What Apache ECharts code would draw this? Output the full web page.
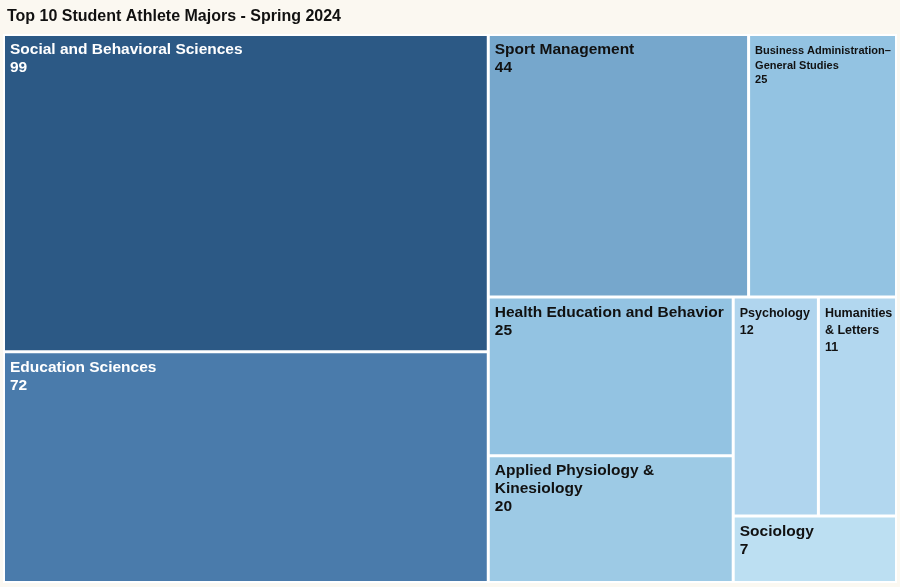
<!DOCTYPE html>
<html><head><meta charset="utf-8">
<script src="https://cdn.jsdelivr.net/npm/echarts@6/dist/echarts.min.js"></script>
<style>html,body{margin:0;padding:0;background:#fbf8f1;}#c{width:900px;height:587px;}</style>
</head><body><div id="c"></div>
<script>
const majors = ['Social and Behavioral Sciences','Education Sciences','Sport Management','Health Education and Behavior','Business Administration\u2013\nGeneral Studies','Applied Physiology &\nKinesiology','Psychology','Humanities\n& Letters','Sociology'];
const counts = [99,72,44,25,25,20,12,11,7];

const colorStops = [[7,[188,223,242]],[12,[176,213,238]],[20,[157,202,229]],[25,[147,195,226]],[44,[118,167,204]],[72,[74,123,171]],[99,[44,89,133]]];
function colorFor(v){
  for(let i=0;i<colorStops.length-1;i++){
    const a=colorStops[i],b=colorStops[i+1];
    if(v<=b[0]){const t=(v-a[0])/(b[0]-a[0]);const c=a[1].map((x,k)=>Math.round(x+(b[1][k]-x)*t));return 'rgb('+c.join(',')+')';}
  }
  return 'rgb('+colorStops[colorStops.length-1][1].join(',')+')';
}
const small = {'Business Administration\u2013\nGeneral Studies':[11,14.5,[8,3,3,5]],'Psychology':[12.5,17,[6,3,3,5]],'Humanities\n& Letters':[12.5,17,[6,3,3,5]]};
const data = majors.map((m,i)=>{
  const d={name:m,value:counts[i],itemStyle:{color:colorFor(counts[i])},label:{color:counts[i]>60?'#ffffff':'#111111'}};
  if(small[m]){d.label.fontSize=small[m][0];d.label.lineHeight=small[m][1];d.label.padding=small[m][2];d.label.overflow='none';}
  return d;
});
const chart = echarts.init(document.getElementById('c'));
chart.setOption({
  backgroundColor:'#fbf8f1',
  title:{text:'Top 10 Student Athlete Majors - Spring 2024',left:2,top:4,textStyle:{fontFamily:'Liberation Sans',fontWeight:'bold',fontSize:16,color:'#111'}},
  series:[{
    type:'treemap',left:3,top:34,right:3,bottom:4,
    roam:false,nodeClick:false,breadcrumb:{show:false},
    animation:false,
    itemStyle:{borderColor:'#ffffff',borderWidth:1,gapWidth:1},
    label:{show:true,position:'insideTopLeft',formatter:'{b}\n{c}',fontFamily:'Liberation Sans',fontWeight:'bold',fontSize:15.5,lineHeight:18,padding:[5,3,3,5],overflow:'none'},
    data:data
  }]
});
</script></body></html>
